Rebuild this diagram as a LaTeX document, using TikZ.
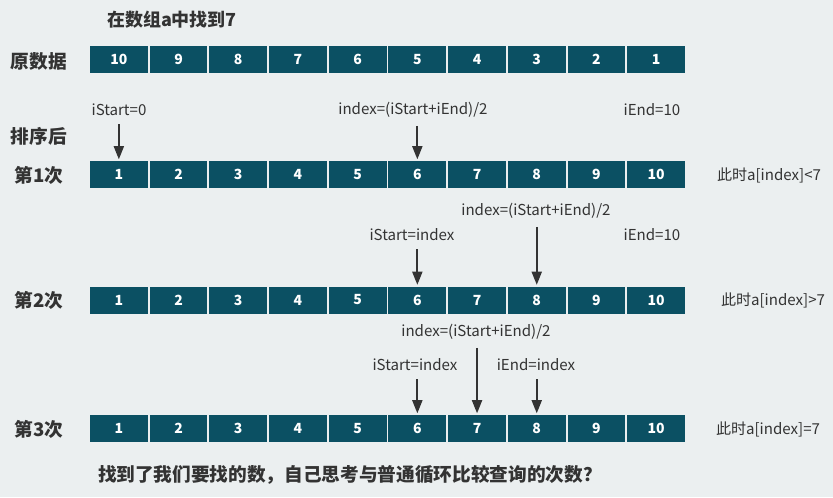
\documentclass[tikz,border=0pt]{standalone}
\usepackage{fontspec}
\setmainfont{Noto Sans CJK SC}
\usetikzlibrary{arrows.meta}
\definecolor{bgc}{HTML}{EBEFF0}
\definecolor{cellc}{HTML}{0B5063}
\definecolor{txt}{HTML}{333333}
\tikzset{
  cellbox/.style={fill=cellc, minimum width=43.3pt, minimum height=20.25pt, inner sep=0pt, text=white, font=\bfseries\fontsize{10.5}{12}\selectfont},
  rowlab/.style={text=txt, font=\bfseries\fontsize{14}{16}\selectfont, inner sep=0pt},
  titlelab/.style={text=txt, font=\bfseries\fontsize{13.5}{15}\selectfont, inner sep=0pt},
  lab/.style={text=txt, font=\fontsize{11.3}{13}\selectfont, inner sep=0pt},
  arr/.style={draw=txt, line width=1.6pt, -{Triangle[length=10pt,width=7.5pt]}, shorten >=1pt},
}
\begin{document}
\begin{tikzpicture}[x=0.75pt,y=-0.75pt]
\fill[bgc] (0,0) rectangle (833,497);
\useasboundingbox (0,0) rectangle (833,497);

% title
\node[titlelab] (title) at (172,20) {在数组a中找到7};

% row labels
\node[rowlab] (l0) at (39,61) {原数据};
\node[rowlab] (lsort) at (39,136) {排序后};
\node[rowlab] (l1) at (39,175) {第1次};
\node[rowlab] (l2) at (39,300) {第2次};
\node[rowlab] (l3) at (39,429) {第3次};

% cells
\foreach \i in {1,...,10} {
  \pgfmathtruncatemacro{\v}{11-\i}
  \node[cellbox] (r0c\i) at ({118.85+59.7*(\i-1)},59.5) {\v};
  \node[cellbox] (r1c\i) at ({118.85+59.7*(\i-1)},174.5) {\i};
  \node[cellbox] (r2c\i) at ({118.85+59.7*(\i-1)},300) {\i};
  \node[cellbox] (r3c\i) at ({118.85+59.7*(\i-1)},428.5) {\i};
}

% row 1 labels
\node[lab] (s1) at (119,110) {iStart=0};
\node[lab] (m1) at (413,110) {index=(iStart+iEnd)/2};
\node[lab] (e1) at (652,110) {iEnd=10};
\node[lab] (q1) at (769,175) {此时a[index]<7};
\draw[arr] ([yshift=-6pt]s1.south -| r1c1.north) -- (r1c1.north);
\draw[arr] ([yshift=-6pt]m1.south -| r1c6.north) -- (r1c6.north);

% row 2 labels
\node[lab] (m2) at (536,211) {index=(iStart+iEnd)/2};
\node[lab] (s2) at (412,235) {iStart=index};
\node[lab] (e2) at (652,235) {iEnd=10};
\node[lab] (q2) at (773,300) {此时a[index]>7};
\draw[arr] ([yshift=-6pt]m2.south -| r2c8.north) -- (r2c8.north);
\draw[arr] ([yshift=-6pt]s2.south -| r2c6.north) -- (r2c6.north);

% row 3 labels
\node[lab] (m3) at (476,332) {index=(iStart+iEnd)/2};
\node[lab] (s3) at (415,365) {iStart=index};
\node[lab] (e3) at (536,365) {iEnd=index};
\node[lab] (q3) at (768,429) {此时a[index]=7};
\draw[arr] ([yshift=-6pt]m3.south -| r3c7.north) -- (r3c7.north);
\draw[arr] ([yshift=-6pt]s3.south -| r3c6.north) -- (r3c6.north);
\draw[arr] ([yshift=-6pt]e3.south -| r3c8.north) -- (r3c8.north);

% bottom question
\node[rowlab] (bottom) at (350,475) {找到了我们要找的数，自己思考与普通循环比较查询的次数？};
\end{tikzpicture}
\end{document}
